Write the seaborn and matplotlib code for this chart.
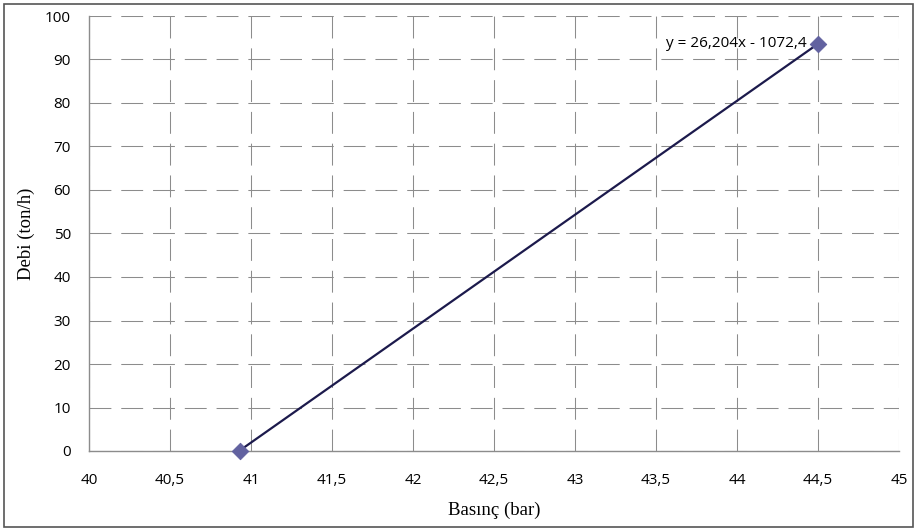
import matplotlib
matplotlib.use("Agg")
import matplotlib.pyplot as plt
import seaborn as sns
import pandas as pd
from matplotlib.patches import Rectangle

basinc = [40.93, 44.5]
debi = [0.1, 93.6]
x_ticks = [40, 40.5, 41, 41.5, 42, 42.5, 43, 43.5, 44, 44.5, 45]
y_ticks = [0, 10, 20, 30, 40, 50, 60, 70, 80, 90, 100]
equation = "y = 26,204x - 1072,4"

df = pd.DataFrame({"Basınç": basinc, "Debi": debi})

sns.set_style("white")
plt.rcParams['font.family'] = ['Open Sans', 'DejaVu Sans']

fig = plt.figure(figsize=(9.17, 5.29), dpi=100)
ax = fig.add_axes([89/917, 78/529, 810/917, 435/529])

sns.lineplot(data=df, x="Basınç", y="Debi", ax=ax, color="#1c1a4c", linewidth=1.6, zorder=3)
sns.scatterplot(data=df, x="Basınç", y="Debi", ax=ax, marker="D", s=70, color="#6262a0",
                edgecolor="#6262a0", zorder=4, clip_on=False)

ax.set_xlim(40, 45)
ax.set_ylim(0, 100)
ax.set_xticks(x_ticks)
ax.set_yticks(y_ticks)
ax.set_xticklabels([f"{v:g}".replace(".", ",") for v in x_ticks], fontsize=11, color="black")
ax.set_yticklabels([str(v) for v in y_ticks], fontsize=11, color="black")
ax.tick_params(axis="y", length=0, pad=13)
ax.tick_params(axis="x", length=0, pad=16)

ax.grid(True, color="#8c8c8c", linestyle=(0, (21, 9.5)), linewidth=0.75)
ax.set_axisbelow(True)
for s in ["top", "right"]:
    ax.spines[s].set_visible(False)
for s in ["left", "bottom"]:
    ax.spines[s].set_color("#8c8c8c")
    ax.spines[s].set_linewidth(1.0)

ax.set_xlabel("Basınç (bar)", fontsize=13.5, family="Liberation Serif", labelpad=10,
              color="black", fontweight="normal")
ax.set_ylabel("Debi (ton/h)", fontsize=13.5, family="Liberation Serif", labelpad=7,
              color="black", fontweight="normal")

ax.text(basinc[1] - 0.07, debi[1], equation, ha="right", va="center", fontsize=11,
        color="black", zorder=5)

fig.patches.append(Rectangle((4/917, 2/529), 909/917, 523/529, transform=fig.transFigure,
                             fill=False, edgecolor="#555555", linewidth=1.2))

fig.savefig("out.png", dpi=100)
